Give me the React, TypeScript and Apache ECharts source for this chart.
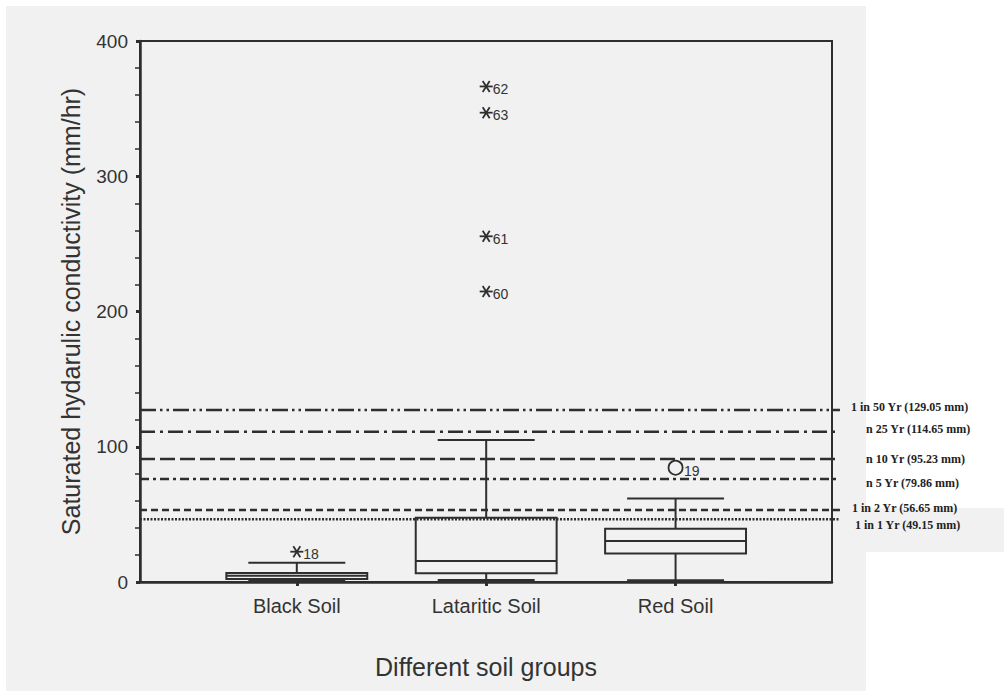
import React, { useEffect, useRef } from 'react';
import * as echarts from 'echarts';

// ---- data ----
const categories = ['Black Soil', 'Lataritic Soil', 'Red Soil'];
const lowerWhisker = [1.0, 1.0, 0.8];
const q1 = [2.2, 6.5, 21.0];
const median = [4.6, 15.6, 30.3];
const q3 = [6.6, 47.5, 39.4];
const upperWhisker = [14.3, 105.0, 61.8];

const outlierCategory = [1, 2, 2, 2, 2, 3];
const outlierValue = [22.4, 366.4, 347.0, 255.6, 214.8, 84.5];
const outlierCase = ['18', '62', '63', '61', '60', '19'];
const outlierKind = ['extreme', 'extreme', 'extreme', 'extreme', 'extreme', 'outlier'];

const yMin = 0;
const yMax = 400;
const yInterval = 100;

const returnLevels = [127.2, 111.1, 90.9, 76.2, 53.2, 46.4];
const returnLabels = [
  '1 in 50 Yr (129.05 mm)',
  'n 25 Yr (114.65 mm)',
  'n 10 Yr (95.23 mm)',
  'n 5 Yr (79.86 mm)',
  '1 in 2 Yr (56.65 mm)',
  '1 in 1 Yr (49.15 mm)',
];

// ---- styles ----
const INK = '#2e2e2e';
const TEXT = '#333333';
const BG = '#f1f1f1';
const SANS = '"Liberation Sans", Arial, sans-serif';
const SERIF = '"Liberation Serif", "Times New Roman", serif';
const X_MIN = 0.172;
const X_MAX = 3.826;
const LINE_END = 3.868;
const dashPatterns = [
  [16, 4, 2.5, 4, 2.5, 4],
  [15, 5, 3, 5],
  [15, 5],
  [9, 4, 3, 4],
  [7, 4],
  [2, 1.5],
];
const dashWidths = [2.6, 2.6, 2.6, 2.6, 2.6, 2.4];
const labelPos = [
  [851, 407],
  [866, 429],
  [866, 459],
  [866, 483],
  [852, 508],
  [855, 525],
];

export default function App() {
  const ref = useRef<HTMLDivElement>(null);

  useEffect(() => {
    if (!ref.current) return;
    const chart = echarts.init(ref.current, undefined, { renderer: 'svg' });

    const boxData = categories.map((_, i) => [
      i + 1,
      lowerWhisker[i],
      q1[i],
      median[i],
      q3[i],
      upperWhisker[i],
    ]);
    const outlierData = outlierCategory.map((c, i) => [c, outlierValue[i], i]);
    const levelData = returnLevels.map((v, i) => [X_MIN, v, i]);

    const option: any = {
      animation: false,
      backgroundColor: 'transparent',
      graphic: [
        { type: 'rect', z: -100, silent: true, shape: { x: 6, y: 6, width: 860, height: 685 }, style: { fill: BG } },
        { type: 'rect', z: -100, silent: true, shape: { x: 866, y: 508, width: 138, height: 44 }, style: { fill: BG } },
        ...returnLabels.map((t, i) => ({
          type: 'text',
          z: 10,
          silent: true,
          x: labelPos[i][0],
          y: labelPos[i][1],
          style: {
            text: t,
            fill: '#222',
            font: `bold 12px ${SERIF}`,
            align: 'left',
            verticalAlign: 'middle',
          },
        })),
      ],
      grid: {
        left: 140,
        top: 41,
        width: 692,
        height: 541,
        show: true,
        borderColor: INK,
        borderWidth: 2,
        backgroundColor: 'transparent',
      },
      xAxis: {
        type: 'value',
        min: X_MIN,
        max: X_MAX,
        splitLine: { show: false },
        axisLine: { show: true, onZero: false, lineStyle: { color: INK, width: 2.5 } },
        axisTick: { show: true, customValues: [1, 2, 3], length: 4, lineStyle: { color: INK, width: 3 } },
        axisLabel: {
          customValues: [1, 2, 3],
          formatter: (v: number) => categories[Math.round(v) - 1] ?? '',
          color: TEXT,
          fontSize: 20,
          fontFamily: SANS,
          margin: 14,
        },
        name: 'Different soil groups',
        nameLocation: 'middle',
        nameGap: 72,
        nameTextStyle: { color: TEXT, fontSize: 25, fontFamily: SANS },
      },
      yAxis: {
        type: 'value',
        min: yMin,
        max: yMax,
        interval: yInterval,
        splitLine: { show: false },
        axisLine: { show: true, onZero: false, lineStyle: { color: INK, width: 2.5 } },
        axisTick: { show: true, length: 4, lineStyle: { color: INK, width: 3 } },
        minorTick: { show: true, splitNumber: 5, length: 5, lineStyle: { color: INK, width: 1.5 } },
        minorSplitLine: { show: false },
        axisLabel: { color: TEXT, fontSize: 19, fontFamily: SANS, margin: 12 },
        name: 'Saturated hydarulic conductivity (mm/hr)',
        nameLocation: 'middle',
        nameGap: 57,
        nameRotate: 90,
        nameTextStyle: { color: TEXT, fontSize: 25, fontFamily: SANS },
      },
      series: [
        {
          type: 'custom',
          name: 'levels',
          data: levelData,
          encode: { x: 0, y: 1 },
          clip: false,
          z: 3,
          renderItem: (params: any, api: any) => {
            const v = api.value(1);
            const idx = api.value(2);
            const a = api.coord([X_MIN, v]);
            const b = api.coord([LINE_END, v]);
            return {
              type: 'line',
              shape: { x1: a[0], y1: a[1], x2: b[0], y2: b[1] },
              style: {
                stroke: INK,
                lineWidth: dashWidths[idx],
                lineDash: dashPatterns[idx],
                lineCap: 'butt',
              },
            };
          },
        },
        {
          type: 'custom',
          name: 'boxes',
          data: boxData,
          encode: { x: 0, y: [1, 2, 3, 4, 5] },
          z: 4,
          renderItem: (params: any, api: any) => {
            const x = api.value(0);
            const band = api.size([1, 0])[0];
            const halfBox = band * 0.372;
            const halfCap = band * 0.256;
            const pLow = api.coord([x, api.value(1)]);
            const pQ1 = api.coord([x, api.value(2)]);
            const pMed = api.coord([x, api.value(3)]);
            const pQ3 = api.coord([x, api.value(4)]);
            const pHigh = api.coord([x, api.value(5)]);
            const cx = pMed[0];
            const st = { stroke: INK, lineWidth: 2, fill: 'none' };
            return {
              type: 'group',
              children: [
                { type: 'line', shape: { x1: cx, y1: pQ3[1], x2: cx, y2: pHigh[1] }, style: st },
                { type: 'line', shape: { x1: cx - halfCap, y1: pHigh[1], x2: cx + halfCap, y2: pHigh[1] }, style: st },
                { type: 'line', shape: { x1: cx, y1: pQ1[1], x2: cx, y2: pLow[1] }, style: st },
                { type: 'line', shape: { x1: cx - halfCap, y1: pLow[1], x2: cx + halfCap, y2: pLow[1] }, style: { stroke: INK, lineWidth: 3.5 } },
                { type: 'rect', shape: { x: cx - halfBox, y: pQ3[1], width: halfBox * 2, height: pQ1[1] - pQ3[1] }, style: st },
                { type: 'line', shape: { x1: cx - halfBox, y1: pMed[1], x2: cx + halfBox, y2: pMed[1] }, style: st },
              ],
            };
          },
        },
        {
          type: 'custom',
          name: 'outliers',
          data: outlierData,
          encode: { x: 0, y: 1 },
          z: 5,
          renderItem: (params: any, api: any) => {
            const p = api.coord([api.value(0), api.value(1)]);
            const idx = api.value(2);
            const kind = outlierKind[idx];
            const [cx, cy] = p;
            const st = { stroke: INK, lineWidth: 1.8 };
            const children: any[] = [];
            if (kind === 'extreme') {
              children.push(
                { type: 'line', shape: { x1: cx - 6.5, y1: cy, x2: cx + 6.5, y2: cy }, style: st },
                { type: 'line', shape: { x1: cx - 3.5, y1: cy - 5.5, x2: cx + 3.5, y2: cy + 5.5 }, style: st },
                { type: 'line', shape: { x1: cx - 3.5, y1: cy + 5.5, x2: cx + 3.5, y2: cy - 5.5 }, style: st }
              );
            } else {
              children.push({
                type: 'circle',
                shape: { cx, cy, r: 7 },
                style: { stroke: INK, lineWidth: 1.8, fill: 'none' },
              });
            }
            children.push({
              type: 'text',
              x: cx + (kind === 'extreme' ? 6.5 : 8.5),
              y: cy + (kind === 'extreme' ? 2.5 : 3.5),
              style: {
                text: outlierCase[idx],
                fill: TEXT,
                fontSize: 14,
                fontFamily: SANS,
                align: 'left',
                verticalAlign: 'middle',
              },
            });
            return { type: 'group', children };
          },
        },
      ],
    };

    chart.setOption(option);
    return () => chart.dispose();
  }, []);

  return (
    <div
      ref={ref}
      style={{ position: 'absolute', left: 0, top: 0, width: 1004, height: 691, background: '#ffffff' }}
    />
  );
}
